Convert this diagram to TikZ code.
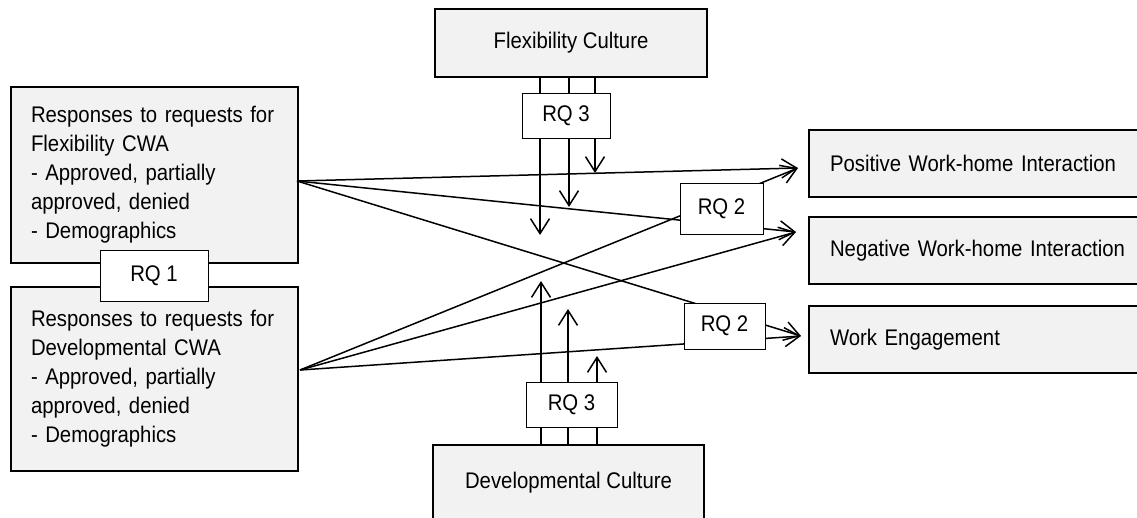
\documentclass[tikz,border=0pt]{standalone}
\usepackage{fontspec}
\setmainfont{Liberation Sans}[FakeStretch=0.9]
\usetikzlibrary{arrows.meta}
\definecolor{boxgray}{HTML}{F2F2F2}
\begin{document}
\begin{tikzpicture}[x=1pt,y=-1pt,
  every node/.style={font=\fontsize{22.6}{29}\selectfont},
  bigbox/.style={draw=black, line width=2pt, fill=boxgray, inner ysep=0pt},
  leftbox/.style={bigbox, anchor=north west, minimum width=287pt, text width=247pt, inner xsep=20pt, align=left},
  rightbox/.style={bigbox, anchor=north west, minimum width=360pt, minimum height=67pt, text width=318pt, inner xsep=21pt, align=left},
  culturebox/.style={bigbox, anchor=north west, minimum height=68pt, align=center},
  rqbox/.style={draw=black, line width=1pt, fill=white, inner sep=0pt},
  conn/.style={line width=1.5pt, -{Straight Barb[length=15pt,width=19pt,line width=1.5pt]}},
  plain/.style={line width=1.5pt}
]
\useasboundingbox (0,0) rectangle (1137,517);
\clip (0,0) rectangle (1137,517);

% main boxes
\node[leftbox, minimum height=176pt] (lt) at (10,86) {Responses to requests for\\Flexibility CWA\\- Approved, partially\\approved, denied\\- Demographics};
\node[leftbox, minimum height=184pt] (lb) at (10,286) {Responses to requests for\\Developmental CWA\\- Approved, partially\\approved, denied\\- Demographics};
\node[culturebox, minimum width=272pt] (fc) at (434,8) {Flexibility Culture};
\node[culturebox, minimum width=271pt, minimum height=76pt] (dc) at (432,444) {Developmental Culture};
\node[rightbox] (pos) at (808,129) {Positive Work-home Interaction};
\node[rightbox] (neg) at (808,216) {Negative Work-home Interaction};
\node[rightbox] (we) at (808,305) {Work Engagement};

% connector end points
\coordinate (ltout) at (297,181);
\coordinate (lbout) at (300,370);
\coordinate (posin) at (798,168);
\coordinate (negin) at (796,232);
\coordinate (wein) at (801,336);
\coordinate (fa1) at (540,235);
\coordinate (fa2) at (569,207);
\coordinate (fa3) at (595,173);
\coordinate (da1) at (541,281);
\coordinate (da2) at (568,309);
\coordinate (da3) at (597,356);

% connectors
\draw[conn] (ltout) -- (posin);
\draw[conn] (ltout) -- (negin);
\draw[conn] (ltout) -- (wein);
\draw[conn] (lbout) -- (posin);
\draw[conn] (lbout) -- (negin);
\draw[conn] (lbout) -- (wein);

\draw[conn] (fa1 |- fc.south) -- (fa1);
\draw[conn] (fa2 |- fc.south) -- (fa2);
\draw[conn] (fa3 |- fc.south) -- (fa3);
\draw[conn] (da1 |- dc.north) -- (da1);
\draw[conn] (da2 |- dc.north) -- (da2);
\draw[conn] (da3 |- dc.north) -- (da3);

% RQ boxes
\node[rqbox, minimum width=108pt, minimum height=51pt] (rq1) at (154,275.5) {RQ 1};
\node[rqbox, minimum width=88pt, minimum height=45pt] (rq3a) at (566,115.5) {RQ 3};
\node[rqbox, minimum width=91pt, minimum height=45pt] (rq3b) at (571.5,404.5) {RQ 3};
\node[rqbox, minimum width=83pt, minimum height=51pt] (rq2a) at (721.5,208.5) {RQ 2};
\node[rqbox, minimum width=81pt, minimum height=46pt] (rq2b) at (724.5,326) {RQ 2};
\end{tikzpicture}
\end{document}
